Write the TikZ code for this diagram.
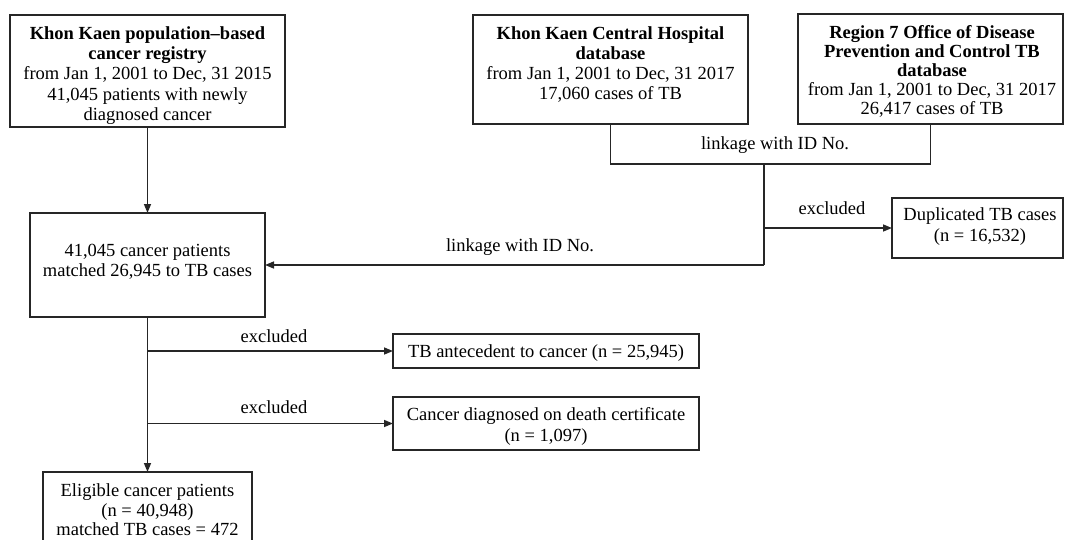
\documentclass[tikz,border=0pt]{standalone}
\usepackage{fontspec}
\setmainfont{Liberation Serif}
\usetikzlibrary{arrows.meta}
\tikzset{
  box/.style={draw=black!85, line width=1.6pt, inner sep=0pt, outer sep=0pt},
  txt/.style={align=center, inner sep=0pt, font=\fontsize{18.5}{20.2}\selectfont},
  lbl/.style={inner sep=0pt, font=\fontsize{18.5}{20}\selectfont},
  conn/.style={draw=black!85, line width=1.5pt},
  arr/.style={conn, -{Triangle[length=9pt,width=7pt]}}
}
\begin{document}
\begin{tikzpicture}[x=1pt,y=-1pt]
\clip (0,0) rectangle (1066,539);
% boxes
\node[box, minimum width=275, minimum height=112] (A) at (147.5,71) {};
\node[box, minimum width=275, minimum height=109] (B) at (610.5,69.5) {};
\node[box, minimum width=265, minimum height=110] (C) at (930.5,69) {};
\node[box, minimum width=235, minimum height=104] (D) at (147.5,265) {};
\node[box, minimum width=171, minimum height=60] (E) at (977.5,228) {};
\node[box, minimum width=306, minimum height=34] (F) at (546,351) {};
\node[box, minimum width=306, minimum height=53] (G) at (546,423.5) {};
\node[box, minimum width=209, minimum height=88] (H) at (147.5,516) {};
% texts
\node[txt] (At) at (147.5,75.5) {\textbf{Khon Kaen population–based}\\\textbf{cancer registry}\\from Jan 1, 2001 to Dec, 31 2015\\41,045 patients with newly\\diagnosed cancer};
\node[txt, font=\fontsize{18.5}{20}\selectfont] (Bt) at (610.5,64.5) {\textbf{Khon Kaen Central Hospital}\\\textbf{database}\\from Jan 1, 2001 to Dec, 31 2017\\17,060 cases of TB};
\node[txt, font=\fontsize{18.5}{19}\selectfont] (Ct) at (932,71.5) {\textbf{Region 7 Office of Disease}\\\textbf{Prevention and Control TB}\\\textbf{database}\\from Jan 1, 2001 to Dec, 31 2017\\26,417 cases of TB};
\node[txt] (Dt) at (147.5,261.5) {41,045 cancer patients\\matched 26,945 to TB cases};
\node[txt] (Et) at (980,226.5) {Duplicated TB cases\\(n = 16,532)};
\node[txt] (Ft) at (546,353) {TB antecedent to cancer (n = 25,945)};
\node[txt] (Gt) at (546,426.5) {Cancer diagnosed on death certificate\\(n = 1,097)};
\node[txt, font=\fontsize{18.5}{19.5}\selectfont] (Ht) at (147.5,510) {Eligible cancer patients\\(n = 40,948)\\matched TB cases = 472};
% labels
\node[lbl] (L1) at (775,145) {linkage with ID No.};
\node[lbl] (L2) at (520,247) {linkage with ID No.};
\node[lbl] (X1) at (832,208) {excluded};
\node[lbl] (X2) at (274,336) {excluded};
\node[lbl] (X3) at (274,407) {excluded};
% junctions
\coordinate (j1) at (764,164);
\coordinate (j2) at (764,265);
% connectors
\draw[arr] (A.south) -- (D.north);
\draw[conn] (B.south) |- (j1) -| (C.south);
\draw[conn] (j1) -- (j2);
\draw[arr] (j2) -- (D.east);
\draw[arr] (j1 |- E.west) -- (E.west);
\draw[arr] (D.south) -- (H.north);
\draw[arr] (D.south |- F.west) -- (F.west);
\draw[arr] (D.south |- G.west) -- (G.west);
\end{tikzpicture}
\end{document}
